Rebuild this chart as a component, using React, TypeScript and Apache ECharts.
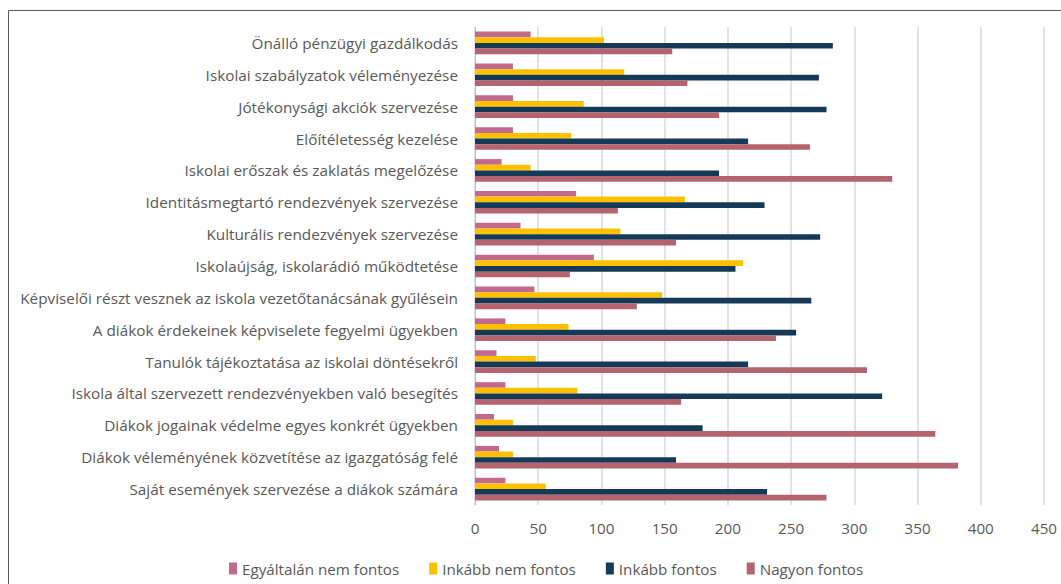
import React, { useEffect, useRef } from "react";
import * as echarts from "echarts";

const categories = [
  "Önálló pénzügyi gazdálkodás",
  "Iskolai szabályzatok véleményezése",
  "Jótékonysági akciók szervezése",
  "Előítéletesség kezelése",
  "Iskolai erőszak és zaklatás megelőzése",
  "Identitásmegtartó rendezvények szervezése",
  "Kulturális rendezvények szervezése",
  "Iskolaújság, iskolarádió működtetése",
  "Képviselői részt vesznek az iskola vezetőtanácsának gyűlésein",
  "A diákok érdekeinek képviselete fegyelmi ügyekben",
  "Tanulók tájékoztatása az iskolai döntésekről",
  "Iskola által szervezett rendezvényekben való besegítés",
  "Diákok jogainak védelme egyes konkrét ügyekben",
  "Diákok véleményének közvetítése az igazgatóság felé",
  "Saját események szervezése a diákok számára",
];

const egyaltalanNem = [44, 30, 30, 30, 21, 80, 36, 94, 47, 24, 17, 24, 15, 19, 24];
const inkabbNem = [102, 118, 86, 76, 44, 166, 115, 212, 148, 74, 48, 81, 30, 30, 56];
const inkabbFontos = [283, 272, 278, 216, 193, 229, 273, 206, 266, 254, 216, 322, 180, 159, 231];
const nagyonFontos = [156, 168, 193, 265, 330, 113, 159, 75, 128, 238, 310, 163, 364, 382, 278];

const seriesNames = ["Egyáltalán nem fontos", "Inkább nem fontos", "Inkább fontos", "Nagyon fontos"];
const seriesColors = ["#C4698E", "#FFC000", "#153A57", "#B5636E"];
const seriesData = [egyaltalanNem, inkabbNem, inkabbFontos, nagyonFontos];

export default function App() {
  const ref = useRef<HTMLDivElement>(null);
  useEffect(() => {
    document.body.style.margin = "0";
    const chart = echarts.init(ref.current!, null, { renderer: "svg" });
    const font = "'Open Sans', sans-serif";
    chart.setOption({
      animation: false,
      backgroundColor: "#ffffff",
      textStyle: { fontFamily: font },
      graphic: [
        {
          type: "rect",
          shape: { x: 8.5, y: 10.5, width: 1060, height: 580 },
          style: { fill: "none", stroke: "#595959", lineWidth: 1 },
          silent: true,
        },
      ],
      legend: {
        data: seriesNames,
        left: 224,
        top: 556,
        icon: "rect",
        itemWidth: 8,
        itemHeight: 12,
        itemGap: 30,
        itemStyle: { borderWidth: 0 },
        textStyle: { color: "#595959", fontSize: 15.2, fontFamily: font },
      },
      grid: { left: 475, right: 17, top: 27, bottom: 79, containLabel: false },
      xAxis: {
        type: "value",
        min: 0,
        max: 450,
        interval: 50,
        axisLine: { show: false },
        axisTick: { show: false },
        axisLabel: { color: "#595959", fontSize: 15.2, margin: 15, fontFamily: font },
        splitLine: { lineStyle: { color: "#D9D9D9", width: 1.5 } },
      },
      yAxis: {
        type: "category",
        data: categories,
        inverse: true,
        axisLine: { lineStyle: { color: "#BFBFBF", width: 1 } },
        axisTick: { show: false },
        axisLabel: { color: "#595959", fontSize: 15.3, margin: 17, fontFamily: font },
      },
      series: seriesNames.map((name, i) => ({
        name,
        type: "bar",
        data: seriesData[i],
        barGap: "0%",
        barCategoryGap: "29%",
        itemStyle: { color: seriesColors[i] },
      })),
    });
    return () => chart.dispose();
  }, []);
  return <div ref={ref} style={{ width: 1061, height: 584 }} />;
}
